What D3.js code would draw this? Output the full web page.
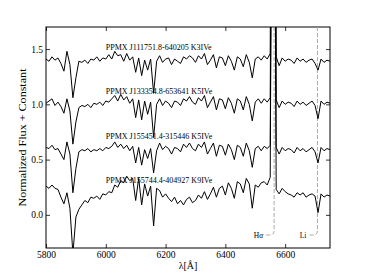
<!DOCTYPE html>
<html>
<head>
<meta charset="utf-8">
<script src="https://cdn.jsdelivr.net/npm/d3@7"></script>
<style>
  body { margin: 0; background: #fff; }
  svg text { font-family: 'Liberation Serif', 'DejaVu Serif', serif; fill: #000; }
</style>
</head>
<body>
<div id="figure"><div class="plot"></div></div>
<script>

const wavelengths = [
  5800, 5810, 5820, 5830, 5840, 5850, 5860, 5870, 5880, 5890,
  5900, 5910, 5920, 5930, 5940, 5950, 5960, 5970, 5980, 5990,
  6000, 6010, 6020, 6030, 6040, 6050, 6060, 6070, 6080, 6090,
  6100, 6110, 6120, 6130, 6140, 6150, 6160, 6170, 6180, 6190,
  6200, 6210, 6220, 6230, 6240, 6250, 6260, 6270, 6280, 6290,
  6300, 6310, 6320, 6330, 6340, 6350, 6360, 6370, 6380, 6390,
  6400, 6410, 6420, 6430, 6440, 6450, 6460, 6470, 6480, 6490,
  6500, 6510, 6520, 6530, 6540, 6550, 6560, 6570, 6580, 6590,
  6600, 6610, 6620, 6630, 6640, 6650, 6660, 6670, 6680, 6690,
  6700, 6710, 6720, 6730, 6740, 6750 ];

// Normalized flux + offset, one list per star (top to bottom).
const flux_j111751 = [
  1.41, 1.39, 1.43, 1.40, 1.42, 1.37, 1.30, 1.48, 1.36, 1.06,
  1.24, 1.39, 1.38, 1.40, 1.37, 1.41, 1.40, 1.43, 1.39, 1.42,
  1.41, 1.45, 1.41, 1.48, 1.44, 1.45, 1.39, 1.46, 1.40, 1.43,
  1.29, 1.42, 1.26, 1.40, 1.31, 1.41, 1.10, 1.39, 1.44, 1.38,
  1.41, 1.42, 1.36, 1.41, 1.39, 1.37, 1.43, 1.41, 1.44, 1.42,
  1.38, 1.44, 1.41, 1.46, 1.36, 1.40, 1.45, 1.33, 1.43, 1.42,
  1.35, 1.44, 1.39, 1.31, 1.43, 1.41, 1.34, 1.45, 1.38, 1.24,
  1.41, 1.43, 1.40, 1.44, 1.41, 1.46, 8.00, 1.43, 1.35, 1.42,
  1.39, 1.41, 1.40, 1.37, 1.42, 1.39, 1.41, 1.38, 1.40, 1.41,
  1.37, 1.31, 1.41, 1.38, 1.40, 1.39 ];

const flux_j133354 = [
  1.01, 1.03, 1.05, 0.99, 1.02, 0.98, 0.92, 1.05, 0.94, 0.64,
  0.84, 0.97, 0.99, 0.98, 1.00, 0.97, 1.01, 1.00, 1.02, 0.99,
  1.03, 1.02, 1.05, 1.08, 1.03, 1.09, 1.04, 1.07, 1.01, 1.05,
  0.88, 1.04, 0.86, 1.03, 0.91, 1.02, 0.70, 1.00, 1.05, 0.99,
  1.03, 1.01, 0.97, 1.03, 1.02, 0.99, 1.05, 1.03, 1.07, 1.02,
  1.00, 1.06, 1.03, 1.08, 0.97, 1.02, 1.07, 0.95, 1.05, 1.04,
  0.96, 1.06, 1.01, 0.92, 1.05, 1.03, 0.95, 1.07, 1.00, 0.85,
  1.02, 1.05, 1.01, 1.05, 1.02, 1.06, 6.00, 1.04, 0.97, 1.03,
  1.00, 1.02, 1.01, 0.98, 1.03, 1.00, 1.02, 0.99, 1.01, 1.03,
  0.99, 0.87, 1.03, 1.00, 1.02, 1.01 ];

const flux_j155451 = [
  0.61, 0.60, 0.63, 0.59, 0.60, 0.55, 0.50, 0.66, 0.55, 0.20,
  0.42, 0.57, 0.59, 0.58, 0.60, 0.57, 0.59, 0.58, 0.60, 0.58,
  0.61, 0.60, 0.62, 0.66, 0.61, 0.64, 0.60, 0.63, 0.58, 0.62,
  0.47, 0.61, 0.45, 0.59, 0.51, 0.60, 0.38, 0.58, 0.65, 0.59,
  0.62, 0.60, 0.55, 0.61, 0.60, 0.57, 0.64, 0.61, 0.65, 0.60,
  0.58, 0.64, 0.61, 0.66, 0.55, 0.60, 0.65, 0.53, 0.63, 0.62,
  0.54, 0.64, 0.59, 0.50, 0.63, 0.61, 0.53, 0.65, 0.58, 0.43,
  0.60, 0.62, 0.58, 0.62, 0.60, 0.63, 6.00, 0.61, 0.55, 0.61,
  0.58, 0.60, 0.59, 0.56, 0.61, 0.58, 0.60, 0.57, 0.59, 0.61,
  0.57, 0.47, 0.61, 0.58, 0.60, 0.59 ];

const flux_j155744 = [
  0.26, 0.24, 0.27, 0.24, 0.23, 0.16, 0.10, 0.20, 0.06, -0.35,
  -0.02, 0.05, 0.09, 0.13, 0.11, 0.16, 0.15, 0.17, 0.14, 0.19,
  0.18, 0.21, 0.20, 0.27, 0.25, 0.31, 0.29, 0.35, 0.31, 0.33,
  0.13, 0.33, 0.09, 0.28, 0.17, 0.26, -0.10, 0.24, 0.22, 0.16,
  0.19, 0.15, 0.12, 0.16, 0.10, 0.13, 0.09, 0.14, 0.16, 0.11,
  0.13, 0.18, 0.15, 0.21, 0.14, 0.19, 0.25, 0.16, 0.24, 0.26,
  0.18, 0.29, 0.24, 0.15, 0.30, 0.28, 0.20, 0.33, 0.28, 0.06,
  0.27, 0.25, 0.29, 0.30, 0.27, 0.34, 6.00, 0.23, 0.19, 0.24,
  0.21, 0.19, 0.18, 0.16, 0.20, 0.18, 0.20, 0.16, 0.18, 0.19,
  0.17, 0.02, 0.19, 0.16, 0.18, 0.17 ];

const star_names = [ 'PPMX J111751.8-640205 K3IVe', 'PPMX J133354.8-653641 K5IVe',
                     'PPMX J155451.4-315446 K5IVe', 'PPMX J155744.4-404927 K9IVe' ];
const label_levels = [ 1.5, 1.1, 0.7, 0.3 ];
const label_wave = 6000;

const x_ticks = [ 5800, 6000, 6200, 6400, 6600 ];
const y_ticks = [ 0.0, 0.5, 1.0, 1.5 ];

const line_names = [ 'H', 'Li' ];
const line_waves = [ 6563, 6708 ];


class Spectrumplot{

  constructor( elem_id ){
    this.elem_id = elem_id;
    this.settings = {
      figure_width: 366,
      figure_height: 276,
      plot_margin: { top: 27, right: 36, bottom: 28, left: 46 },
      x_domain: [ 5800, 6750 ],
      y_domain: [ -0.3, 1.7 ]
    };
    this.settings.plot_width = this.settings.figure_width - this.settings.plot_margin.left - this.settings.plot_margin.right;
    this.settings.plot_height = this.settings.figure_height - this.settings.plot_margin.top - this.settings.plot_margin.bottom;

    this.series = [ flux_j111751, flux_j133354, flux_j155451, flux_j155744 ];

    this.render_axes();
    this.render_line_markers();
    this.render_spectra();
    this.render_labels();
  }


  render_axes(){
    const s = this.settings;
    this.svg = d3.select( 'div#' + this.elem_id + ' .plot' )
      .append( 'svg' )
        .attr( 'width', s.figure_width )
        .attr( 'height', s.figure_height )
        .style( 'display', 'block' )
        .append( 'g' )
          .attr( 'transform', 'translate(' + s.plot_margin.left + ',' + s.plot_margin.top + ')' );

    this.x_scale = d3.scaleLinear().domain( s.x_domain ).range( [ 0, s.plot_width ] );
    this.y_scale = d3.scaleLinear().domain( s.y_domain ).range( [ s.plot_height, 0 ] );

    this.svg.append( 'clipPath' )
      .attr( 'id', 'plotclip' )
      .append( 'rect' )
        .attr( 'width', s.plot_width )
        .attr( 'height', s.plot_height );

    // Ticks point inwards on all four sides, labels only bottom and left.
    const bottom = this.svg.append( 'g' )
      .attr( 'transform', 'translate(0,' + s.plot_height + ')' )
      .call( d3.axisBottom( this.x_scale ).tickValues( x_ticks ).tickSizeInner( -4 ).tickSizeOuter( 0 ).tickPadding( 3 ).tickFormat( d3.format( 'd' ) ) );
    const top = this.svg.append( 'g' )
      .call( d3.axisTop( this.x_scale ).tickValues( x_ticks ).tickSizeInner( -4 ).tickSizeOuter( 0 ).tickFormat( '' ) );
    const left = this.svg.append( 'g' )
      .call( d3.axisLeft( this.y_scale ).tickValues( y_ticks ).tickSizeInner( -4 ).tickSizeOuter( 0 ).tickPadding( 3 ).tickFormat( d3.format( '.1f' ) ) );
    const right = this.svg.append( 'g' )
      .attr( 'transform', 'translate(' + s.plot_width + ',0)' )
      .call( d3.axisRight( this.y_scale ).tickValues( y_ticks ).tickSizeInner( -4 ).tickSizeOuter( 0 ).tickFormat( '' ) );

    [ bottom, top, left, right ].forEach( function( g ){
      g.select( '.domain' ).remove();
      g.selectAll( 'line' ).attr( 'stroke', '#000' ).attr( 'stroke-width', 0.8 );
      g.selectAll( 'text' ).attr( 'font-family', null ).style( 'font-size', '9.5px' );
    } );

    this.frame = this.svg.append( 'rect' )
      .attr( 'width', s.plot_width )
      .attr( 'height', s.plot_height )
      .attr( 'fill', 'none' )
      .attr( 'stroke', '#000' )
      .attr( 'stroke-width', 1 );

    // Axis titles.
    this.svg.append( 'text' )
      .attr( 'x', s.plot_width / 2 )
      .attr( 'y', s.plot_height + 21 )
      .attr( 'text-anchor', 'middle' )
      .style( 'font-size', '10px' )
      .text( 'λ[Å]' );

    this.svg.append( 'text' )
      .attr( 'transform', 'translate(' + ( -24 ) + ',' + ( s.plot_height / 2 ) + ') rotate(-90)' )
      .attr( 'text-anchor', 'middle' )
      .attr( 'dy', '0.35em' )
      .attr( 'textLength', 138 )
      .attr( 'lengthAdjust', 'spacingAndGlyphs' )
      .style( 'font-size', '10px' )
      .text( 'Normalized Flux + Constant' );
  }


  // Dashed guides for H-alpha and Li, bending round to their labels under the spectra.
  render_line_markers(){
    const _this = this;
    const bend_y = this.settings.plot_height - 17;
    const label_y = this.settings.plot_height - 12;
    this.svg.append( 'g' )
      .selectAll( 'path' )
      .data( line_waves )
      .enter().append( 'path' )
        .attr( 'd', function( d ){
          const x = _this.x_scale( d );
          return 'M' + x + ',0 V' + bend_y + ' Q' + x + ',' + ( label_y - 1 ) + ' ' + ( x - 5 ) + ',' + ( label_y - 1 ) + ' H' + ( x - 10 );
        } )
        .attr( 'fill', 'none' )
        .attr( 'stroke', '#a8a8a8' )
        .attr( 'stroke-width', 1 )
        .attr( 'stroke-dasharray', '4,2' );

    const lab = this.svg.append( 'g' )
      .selectAll( 'text' )
      .data( line_waves )
      .enter().append( 'text' )
        .attr( 'x', function( d ){ return _this.x_scale( d ) - 11 } )
        .attr( 'y', label_y + 2 )
        .attr( 'text-anchor', 'end' )
        .style( 'font-size', '7.5px' );
    lab.append( 'tspan' ).text( function( d, i ){ return line_names[ i ] } );
    lab.filter( function( d, i ){ return i === 0 } )
      .append( 'tspan' ).style( 'font-style', 'italic' ).text( 'α' );
  }


  render_spectra(){
    const _this = this;
    const line = d3.line()
      .x( function( d, i ){ return _this.x_scale( wavelengths[ i ] ) } )
      .y( function( d ){ return _this.y_scale( d ) } );
    this.svg.append( 'g' )
      .attr( 'clip-path', 'url(#plotclip)' )
      .selectAll( 'path' )
      .data( this.series )
      .enter().append( 'path' )
        .attr( 'd', line )
        .attr( 'fill', 'none' )
        .attr( 'stroke', '#000' )
        .attr( 'stroke-width', 1 )
        .attr( 'stroke-linejoin', 'round' );
  }


  render_labels(){
    const _this = this;
    this.svg.append( 'g' )
      .selectAll( 'text' )
      .data( star_names )
      .enter().append( 'text' )
        .attr( 'x', this.x_scale( label_wave ) )
        .attr( 'y', function( d, i ){ return _this.y_scale( label_levels[ i ] ) + 1 } )
        .style( 'font-size', '8px' )
        .text( function( d ){ return d } );
  }

} // End of class Spectrumplot.

new Spectrumplot( 'figure' );
</script>
</body>
</html>
